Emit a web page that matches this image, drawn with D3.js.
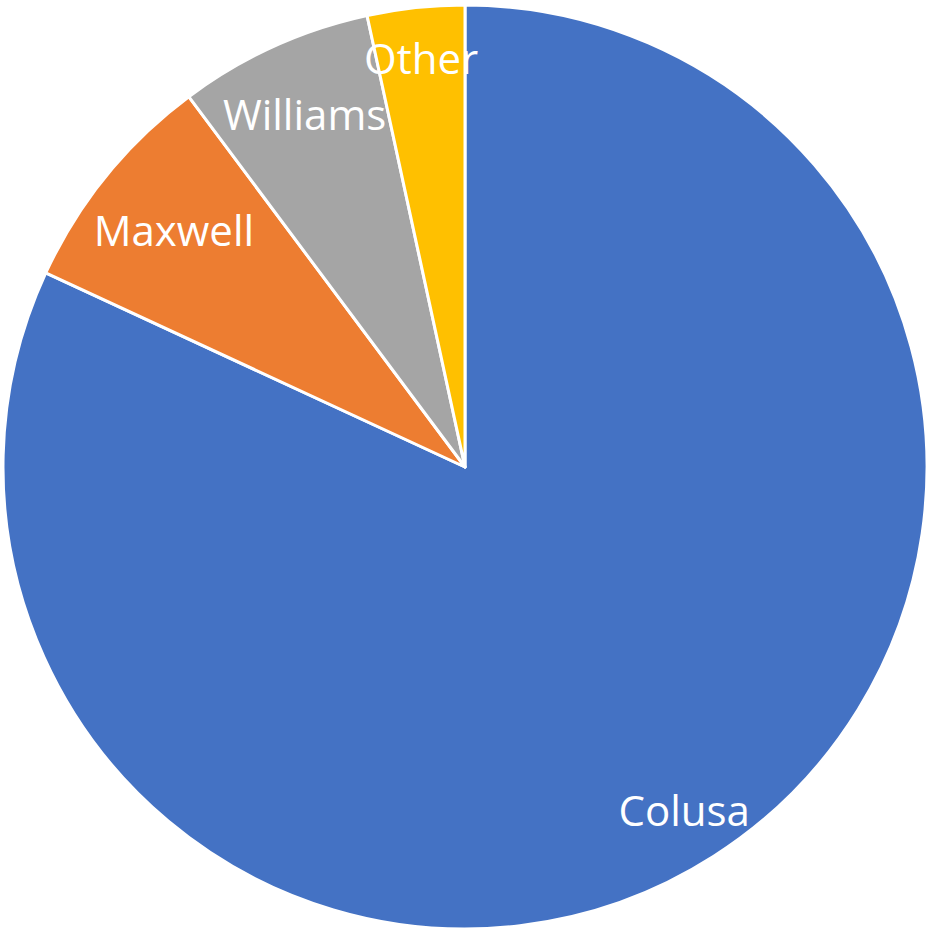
<!DOCTYPE html>
<html>
<head>
<meta charset="utf-8">
<script src="https://cdn.jsdelivr.net/npm/d3@7"></script>
<style>
  html, body { margin: 0; padding: 0; background: #ffffff; }
  svg { display: block; }
</style>
</head>
<body>
<svg id="chart" width="930" height="932"></svg>
<script>
const categories = ["Colusa", "Maxwell", "Williams", "Other"];
const values = [81.9, 7.9, 6.8, 3.4];
const colors = ["#4472C4", "#ED7D31", "#A5A5A5", "#FFC000"];

const width = 930, height = 932;
const cx = 465, cy = 467, radius = 462;

const svg = d3.select("#chart");
const g = svg.append("g").attr("transform", `translate(${cx},${cy})`);

const data = categories.map((c, i) => ({ name: c, value: values[i], color: colors[i] }));

const pie = d3.pie().value(d => d.value).sort(null);
const arc = d3.arc().innerRadius(0).outerRadius(radius);
const arcs = pie(data);

g.selectAll("path.slice")
  .data(arcs)
  .join("path")
  .attr("class", "slice")
  .attr("d", arc)
  .attr("fill", d => d.data.color)
  .attr("stroke", "#ffffff")
  .attr("stroke-width", 3)
  .attr("stroke-linejoin", "round");

// Inside-end labels: the label box is pushed outward along the slice bisector
// until its farthest corner touches the rim.
const fontSize = 42;
const boxTop = 47, boxBottom = 27, rim = radius + 5;
const labels = g.selectAll("text.lbl")
  .data(arcs)
  .join("text")
  .attr("class", "lbl")
  .attr("font-family", "'Open Sans', 'Noto Sans', sans-serif")
  .attr("font-size", fontSize)
  .attr("fill", "#ffffff")
  .attr("text-anchor", "middle")
  .attr("dominant-baseline", "central")
  .text(d => d.data.name);

labels.each(function(d) {
  const halfW = this.getComputedTextLength() / 2;
  const a = (d.startAngle + d.endAngle) / 2;
  const s = Math.sin(a), c = Math.cos(a);
  const fits = dist => {
    const x = dist * s, y = -dist * c;
    const xs = [x - halfW, x + halfW], ys = [y - boxTop, y + boxBottom];
    return xs.every(px => ys.every(py => Math.hypot(px, py) <= rim));
  };
  let lo = 0, hi = rim;
  for (let k = 0; k < 40; k++) {
    const mid = (lo + hi) / 2;
    if (fits(mid)) lo = mid; else hi = mid;
  }
  d3.select(this)
    .attr("x", lo * s)
    .attr("y", -lo * c - 1);
});
</script>
</body>
</html>
